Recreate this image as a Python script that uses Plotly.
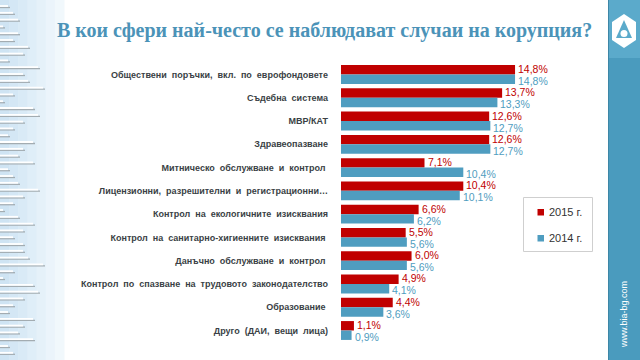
import plotly.graph_objects as go

categories = [
    "Обществени  поръчки,  вкл.  по  еврофондовете",
    "Съдебна  система",
    "МВР/КАТ",
    "Здравеопазване",
    "Митническо  обслужване  и  контрол ",
    "Лицензионни,  разрешителни  и  регистрационни…",
    "Контрол  на  екологичните  изисквания",
    "Контрол  на  санитарно-хигиенните  изисквания ",
    "Данъчно  обслужване  и  контрол ",
    "Контрол  по  спазване  на  трудовото  законодателство",
    "Образование ",
    "Друго  (ДАИ,  вещи  лица)",
]
values_2015 = [14.8, 13.7, 12.6, 12.6, 7.1, 10.4, 6.6, 5.5, 6.0, 4.9, 4.4, 1.1]
values_2014 = [14.8, 13.3, 12.7, 12.7, 10.4, 10.1, 6.2, 5.6, 5.6, 4.1, 3.6, 0.9]
series_names = ["2015 г.", "2014 г."]

RED = "#C00000"
BLUE = "#4F9DC0"

W, H = 640, 360
ML, MR, MT, MB = 341, 120, 61, 17
PW = W - ML - MR
PH = H - MT - MB


def px(x):
    return (x - ML) / PW


def py(y):
    return (H - MB - y) / PH


def fmt(v):
    return f"{v:.1f}%".replace(".", ",")


cats = [c.replace("  ", "\u00a0\u00a0") for c in categories]

fig = go.Figure()
for name, vals, col in [(series_names[0], values_2015, RED), (series_names[1], values_2014, BLUE)]:
    fig.add_trace(go.Bar(
        y=cats, x=vals, orientation="h", name=name,
        marker=dict(color=col, line=dict(width=0)),
        cliponaxis=False, showlegend=False,
    ))

shapes = []
# left gradient strip
left_cols = ["#cfe4f3", "#d4e7f5", "#d9eaf6", "#dfeef8", "#e5f1f9", "#ebf4fb", "#f1f8fc"]
step = 64 / len(left_cols)
for i, c in enumerate(left_cols):
    shapes.append(dict(type="rect", xref="paper", yref="paper",
                       x0=px(i * step), x1=px((i + 1) * step + 0.5), y0=py(360), y1=py(0),
                       fillcolor=c, line=dict(width=0), layer="below"))
line_lengths = [10, 15, 20, 5, 20, 15, 30, 25, 10, 40, 25, 30, 45, 15, 5, 35, 40, 25, 15, 10,
                35, 25, 20, 35, 10, 15, 20, 40, 25, 15, 5, 20, 35, 25, 15, 25, 25, 30, 45, 15,
                5, 35, 40, 25, 15, 10, 35, 25, 20, 35, 10, 15]
for i, L in enumerate(line_lengths):
    y = 6 + i * 6.8
    shapes.append(dict(type="line", xref="paper", yref="paper", x0=px(0), x1=px(L),
                       y0=py(y + 1.5), y1=py(y + 1.5), line=dict(color="#a3acb1", width=1.3), layer="below"))
    shapes.append(dict(type="line", xref="paper", yref="paper", x0=px(0), x1=px(L - 2),
                       y0=py(y), y1=py(y), line=dict(color="#ffffff", width=1.8), layer="below"))
# right strip
shapes.append(dict(type="rect", xref="paper", yref="paper", x0=px(608), x1=px(641), y0=py(361), y1=py(0),
                   fillcolor="#4A9BBE", line=dict(width=0)))
shapes.append(dict(type="rect", xref="paper", yref="paper", x0=px(608), x1=px(641), y0=py(58), y1=py(0),
                   fillcolor="#5BAACB", line=dict(width=0)))
shapes.append(dict(type="line", xref="paper", yref="paper", x0=px(608.5), x1=px(608.5), y0=py(360), y1=py(0),
                   line=dict(color="#3d86a6", width=1)))
# logo
shapes.append(dict(type="path", xref="paper", yref="paper",
                   path="M {} {} L {} {} L {} {} L {} {} L {} {} L {} {} Z".format(
                       px(624), py(14), px(636), py(22), px(636), py(40), px(624), py(48),
                       px(612), py(40), px(612), py(22)),
                   fillcolor="#ffffff", line=dict(width=0)))
shapes.append(dict(type="path", xref="paper", yref="paper",
                   path="M {} {} L {} {} L {} {} Z".format(px(624), py(20), px(632), py(38), px(616), py(38)),
                   fillcolor="#5BAACB", line=dict(width=0)))
shapes.append(dict(type="circle", xref="paper", yref="paper", x0=px(620.5), x1=px(627.5), y0=py(37), y1=py(30),
                   fillcolor="#ffffff", line=dict(width=0)))
# legend box and swatches
shapes.append(dict(type="rect", xref="paper", yref="paper", x0=px(523.5), x1=px(592.5), y0=py(251.5), y1=py(197.5),
                   fillcolor="rgba(0,0,0,0)", line=dict(color="#cfcfcf", width=1)))
legend_y = [212, 238]
for name, col, ly in zip(series_names, [RED, BLUE], legend_y):
    shapes.append(dict(type="rect", xref="paper", yref="paper", x0=px(537.5), x1=px(544), y0=py(ly + 3.5),
                       y1=py(ly - 3), fillcolor=col, line=dict(width=0)))

annotations = [
    dict(text="<b>В кои сфери най-често се наблюдават случаи на корупция?</b>", xref="paper", yref="paper",
         x=px(324), y=py(30), xanchor="center", yanchor="middle", showarrow=False,
         font=dict(family="Liberation Serif", size=20, color="#4B93B8")),
    dict(text="www.bia-bg.com", xref="paper", yref="paper", x=px(624), y=py(315), textangle=-90,
         xanchor="center", yanchor="middle", showarrow=False,
         font=dict(family="Liberation Sans", size=9, color="#ffffff")),
]
for name, ly in zip(series_names, legend_y):
    annotations.append(dict(text=name, xref="paper", yref="paper", x=px(547), y=py(ly), xanchor="left",
                            yanchor="middle", showarrow=False,
                            font=dict(family="Liberation Sans", size=11, color="#333333")))

# value labels next to bar ends, placed through the axes
for vals, col, shift in [(values_2015, RED, 5.5), (values_2014, BLUE, -6.5)]:
    for cat, v in zip(cats, vals):
        annotations.append(dict(text=fmt(v), x=v, y=cat, xref="x", yref="y", xanchor="left",
                                yanchor="middle", xshift=2, yshift=shift, showarrow=False,
                                font=dict(family="Liberation Sans", size=10.5, color=col),
                                borderpad=0))

fig.update_layout(
    width=W, height=H, margin=dict(l=ML, r=MR, t=MT, b=MB, autoexpand=False),
    paper_bgcolor="#ffffff", plot_bgcolor="rgba(0,0,0,0)",
    barmode="group", bargap=0.19, bargroupgap=0,
    showlegend=False,
    xaxis=dict(range=[0, PW / 11.76], visible=False, fixedrange=True),
    yaxis=dict(autorange="reversed", showline=False, showgrid=False, ticks="",
               ticklabelstandoff=12, fixedrange=True,
               tickfont=dict(family="Liberation Sans", size=9, color="#3a3f45", weight="bold")),
    shapes=shapes, annotations=annotations, font=dict(family="Liberation Sans"),
)

fig.write_html("out.html", config={"displayModeBar": False},
               post_script="document.body.style.margin='0';document.body.style.overflow='hidden';")
